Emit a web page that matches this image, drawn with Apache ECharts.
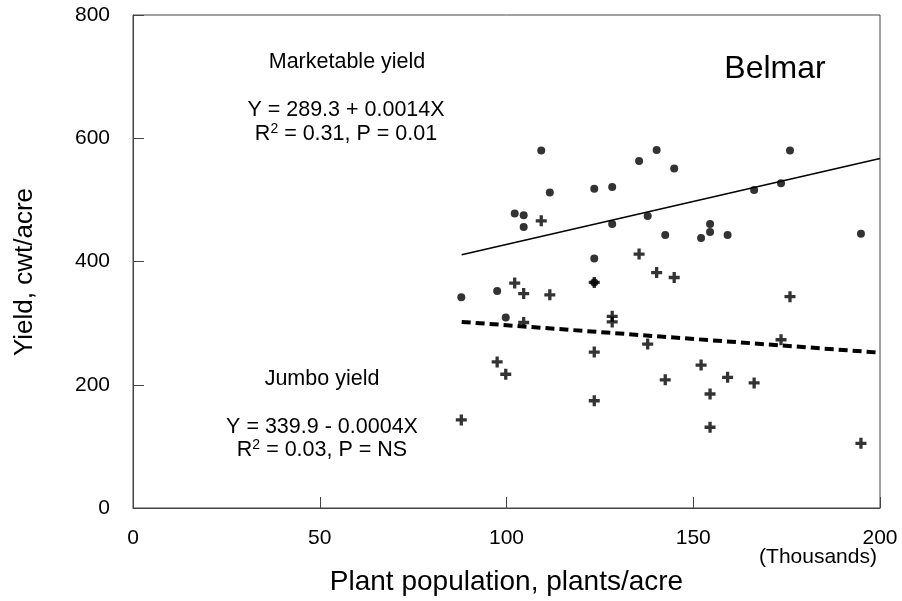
<!DOCTYPE html>
<html>
<head>
<meta charset="utf-8">
<script src="https://cdn.jsdelivr.net/npm/echarts@6/dist/echarts.min.js"></script>
<style>html,body{margin:0;padding:0;background:#fff}#c{width:902px;height:601px}</style>
</head>
<body>
<div id="c"></div>
<script>
// Plant population (thousands) and yields (cwt/acre)
const marketable = [
  [87.9,342],[97.5,352],[99.8,309],[102.2,478],[104.6,475],[104.6,456],[109.3,580],
  [111.6,512],[123.5,518],[123.5,405],[123.5,366],[128.3,521],[128.3,461],[135.5,563],
  [137.8,474],[140.2,581],[142.5,443],[144.9,551],[152.1,438],[154.5,461],[154.5,448],
  [159.2,443],[166.3,516],[173.5,527],[175.9,580],[194.9,445]
];
const jumbo = [
  [87.9,143],[97.5,237],[99.8,217],[102.2,365],[104.6,348],[104.6,301],[109.3,466],
  [111.6,346],[123.5,366],[123.5,253],[123.5,174],[128.3,311],[128.3,302],[135.5,412],
  [137.8,266],[140.2,382],[142.5,208],[144.9,374],[152.1,232],[154.5,185],[154.5,131],
  [159.2,212],[166.3,203],[173.5,273],[175.9,343],[194.9,105]
];
const marketableFit = [[88,411],[200,567]];
const jumboFit = [[88,302],[200,252]];
const xTicks = [0,50,100,150,200];
const yTicks = [0,200,400,600,800];

const FONT = "'Liberation Sans', Arial, sans-serif";
const chart = echarts.init(document.getElementById('c'), null, {renderer:'canvas'});
const plus = 'path://M-1.5,-5H1.5V-1.5H5V1.5H1.5V5H-1.5V1.5H-5V-1.5H-1.5Z';

chart.setOption({
  animation:false,
  backgroundColor:'#fff',
  grid:{left:133,right:22,top:15,bottom:93,containLabel:false,outerBoundsMode:'none',
        show:true,borderColor:'#444',borderWidth:1},
  xAxis:{
    type:'value',min:xTicks[0],max:xTicks[xTicks.length-1],interval:50,
    axisLine:{show:true,lineStyle:{color:'#444',width:1}},
    axisTick:{show:true,inside:true,length:11,lineStyle:{color:'#444'}},
    splitLine:{show:false},
    axisLabel:{color:'#000',fontSize:21,fontFamily:FONT,margin:20},
    name:'Plant population, plants/acre',nameLocation:'middle',nameGap:60,
    nameTextStyle:{color:'#000',fontSize:28,fontFamily:FONT}
  },
  yAxis:{
    type:'value',min:yTicks[0],max:yTicks[yTicks.length-1],interval:200,
    axisLine:{show:true,lineStyle:{color:'#444',width:1}},
    axisTick:{show:true,inside:true,length:11,lineStyle:{color:'#444'}},
    splitLine:{show:false},
    axisLabel:{color:'#000',fontSize:21,fontFamily:FONT,margin:23}
  },
  series:[
    {type:'line',data:marketableFit,showSymbol:false,symbol:'none',
     lineStyle:{color:'#000',width:1.5},z:2},
    {type:'line',data:jumboFit,showSymbol:false,symbol:'none',
     lineStyle:{color:'#000',width:4,type:[9,5]},z:2},
    {type:'scatter',data:marketable,symbol:'circle',symbolSize:8,
     itemStyle:{color:'#000'},z:3},
    {type:'scatter',data:jumbo,symbol:plus,symbolSize:11,
     itemStyle:{color:'#000'},z:3}
  ],
  graphic:[
    {type:'text',x:25,y:272,rotation:Math.PI/2,style:{text:'Yield, cwt/acre',font:'26px '+FONT,fill:'#000',align:'center',verticalAlign:'middle'}},
    {type:'text',x:347,y:62,style:{text:'Marketable yield',font:'21.5px '+FONT,fill:'#000',align:'center',verticalAlign:'middle'}},
    {type:'text',x:346,y:110,style:{text:'Y = 289.3 + 0.0014X',font:'21.5px '+FONT,fill:'#000',align:'center',verticalAlign:'middle'}},
    {type:'text',x:346,y:134,style:{text:'R{s|2} = 0.31, P = 0.01',font:'21.5px '+FONT,fill:'#000',align:'center',verticalAlign:'middle',
      rich:{s:{fontSize:14,fontFamily:FONT,verticalAlign:'top',padding:[0,0,9,0]}}}},
    {type:'text',x:322,y:379,style:{text:'Jumbo yield',font:'21.5px '+FONT,fill:'#000',align:'center',verticalAlign:'middle'}},
    {type:'text',x:322,y:427,style:{text:'Y = 339.9 - 0.0004X',font:'21.5px '+FONT,fill:'#000',align:'center',verticalAlign:'middle'}},
    {type:'text',x:322,y:450,style:{text:'R{s|2} = 0.03, P = NS',font:'21.5px '+FONT,fill:'#000',align:'center',verticalAlign:'middle',
      rich:{s:{fontSize:14,fontFamily:FONT,verticalAlign:'top',padding:[0,0,9,0]}}}},
    {type:'text',x:775,y:69,style:{text:'Belmar',font:'32px '+FONT,fill:'#000',align:'center',verticalAlign:'middle'}},
    {type:'text',x:818,y:557,style:{text:'(Thousands)',font:'21px '+FONT,fill:'#000',align:'center',verticalAlign:'middle'}}
  ]
});
</script>
</body>
</html>
